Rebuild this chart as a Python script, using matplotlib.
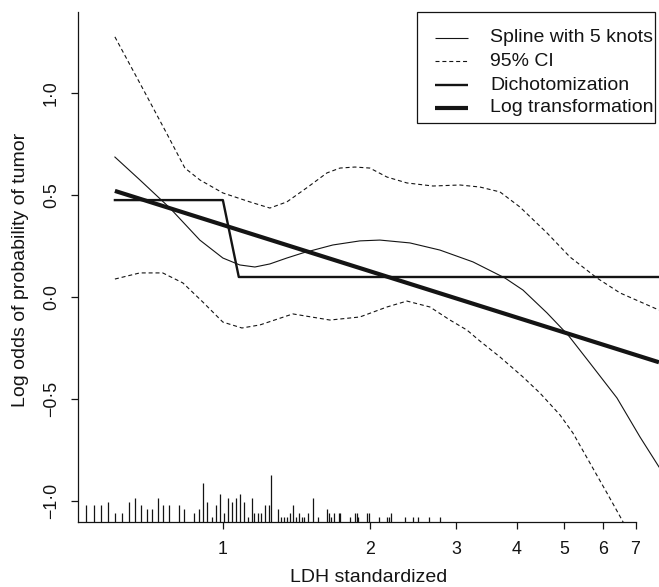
import matplotlib
matplotlib.use('Agg')
import matplotlib.pyplot as plt
from matplotlib.lines import Line2D
from matplotlib.patches import Rectangle
from matplotlib.ticker import NullLocator

plt.rcParams['font.family'] = ['Liberation Sans', 'DejaVu Sans']

# ---------------- data ----------------
spline_x = [0.601, 0.676, 0.779, 0.897, 1.0, 1.083, 1.163, 1.248, 1.352, 1.458,
            1.680, 1.908, 2.097, 2.416, 2.783, 3.252, 3.782, 4.117, 4.611, 5.091,
            5.647, 6.414, 7.149, 7.819]
spline_y = [0.686, 0.574, 0.436, 0.279, 0.191, 0.157, 0.147, 0.162, 0.191, 0.216,
            0.255, 0.275, 0.279, 0.265, 0.230, 0.172, 0.093, 0.034, -0.078, -0.186,
            -0.324, -0.495, -0.686, -0.833]

ci_up_x = [0.601, 0.686, 0.768, 0.836, 0.897, 1.0, 1.136, 1.248, 1.352, 1.493,
           1.633, 1.737, 1.864, 2.0, 2.168, 2.382, 2.693, 3.058, 3.361, 3.694,
           4.059, 4.611, 5.139, 5.837, 6.505, 7.819]
ci_up_y = [1.275, 1.02, 0.80, 0.632, 0.574, 0.510, 0.466, 0.436, 0.466, 0.539,
           0.608, 0.632, 0.637, 0.632, 0.588, 0.559, 0.544, 0.549, 0.539, 0.515,
           0.441, 0.314, 0.196, 0.093, 0.020, -0.064]

ci_lo_x = [0.601, 0.676, 0.753, 0.828, 0.910, 1.0, 1.094, 1.191, 1.391, 1.657,
           1.908, 2.168, 2.382, 2.655, 2.918, 3.161, 3.361, 3.694, 4.117, 4.461,
           4.902, 5.212, 5.647, 6.119, 6.568, 7.149]
ci_lo_y = [0.088, 0.118, 0.118, 0.069, -0.025, -0.123, -0.152, -0.137, -0.083, -0.113,
           -0.098, -0.049, -0.020, -0.049, -0.113, -0.162, -0.216, -0.294, -0.392, -0.471,
           -0.578, -0.667, -0.814, -0.961, -1.093, -1.265]

dich_x = [0.601, 1.0, 1.078, 7.819]
dich_y = [0.475, 0.475, 0.098, 0.098]

logt_x = [0.601, 7.819]
logt_y = [0.52, -0.32]

rug_x = [0.524, 0.545, 0.564, 0.581, 0.602, 0.620, 0.641, 0.660, 0.680, 0.699,
         0.716, 0.737, 0.755, 0.777, 0.813, 0.833, 0.871, 0.892, 0.909, 0.930,
         0.951, 0.967, 0.986, 1.007, 1.025, 1.043, 1.063, 1.086, 1.106, 1.125,
         1.145, 1.159, 1.178, 1.197, 1.220, 1.242, 1.255, 1.299, 1.315, 1.337,
         1.352, 1.375, 1.391, 1.411, 1.435, 1.454, 1.467, 1.493, 1.530, 1.565,
         1.631, 1.650, 1.668, 1.688, 1.728, 1.739, 1.817, 1.861, 1.878, 1.895,
         1.970, 1.988, 2.091, 2.165, 2.190, 2.214, 2.360, 2.454, 2.505, 2.646,
         2.790]
rug_n = [4, 4, 4, 5, 2, 2, 5, 6, 4, 3,
         3, 6, 4, 4, 4, 3, 2, 3, 10, 5,
         1, 4, 7, 2, 6, 5, 6, 7, 5, 1,
         6, 2, 2, 2, 4, 4, 12, 3, 1, 1,
         1, 2, 4, 1, 2, 1, 1, 2, 6, 1,
         3, 2, 1, 2, 2, 2, 1, 2, 2, 1,
         2, 2, 1, 1, 1, 2, 1, 1, 1, 1,
         1]

x_ticks = [1, 2, 3, 4, 5, 6, 7]
x_ticklabels = ['1', '2', '3', '4', '5', '6', '7']
y_ticks = [-1.0, -0.5, 0.0, 0.5, 1.0]
y_ticklabels = ['\u22121\u00b70', '\u22120\u00b75', '0\u00b70', '0\u00b75', '1\u00b70']

legend_labels = ['Spline with 5 knots', '95% CI', 'Dichotomization', 'Log transformation']

# ---------------- figure ----------------
W, H = 659, 587
fig = plt.figure(figsize=(W / 100, H / 100), dpi=100)

def fx(px):
    return px / W

def fy(py):
    return 1 - py / H

ax = fig.add_axes([fx(78), fy(522), (659 - 78) / W, (522 - 12) / H])
XMIN, XMAX = 0.505, 7.82
YMIN, YMAX = -1.103, 1.397
ax.set_xscale('log')
ax.set_xlim(XMIN, XMAX)
ax.set_ylim(YMIN, YMAX)

ink = '#141414'
dash = (0, (3.6, 2.6))

ax.plot(spline_x, spline_y, color=ink, lw=0.8, solid_joinstyle='round')
ax.plot(ci_up_x, ci_up_y, color=ink, lw=0.8, linestyle=dash)
ax.plot(ci_lo_x, ci_lo_y, color=ink, lw=0.8, linestyle=dash)
ax.plot(dich_x, dich_y, color=ink, lw=1.7)
ax.plot(logt_x, logt_y, color=ink, lw=3.0, solid_capstyle='butt')

# rug spikes (height grows with count)
RUG_BASE = 1.5 / 204
RUG_UNIT = 3.8 / 204
ax.vlines(rug_x, YMIN, [YMIN + RUG_BASE + RUG_UNIT * n for n in rug_n],
          color=ink, lw=0.9)

for s in ['top', 'right']:
    ax.spines[s].set_visible(False)
for s in ['left', 'bottom']:
    ax.spines[s].set_color(ink)
    ax.spines[s].set_linewidth(0.9)
ax.spines['bottom'].set_bounds(XMIN, 7)

ax.set_xticks(x_ticks)
ax.set_xticklabels(x_ticklabels)
ax.xaxis.set_minor_locator(NullLocator())
ax.set_yticks(y_ticks)
ax.set_yticklabels(y_ticklabels)
ax.tick_params(axis='both', direction='out', length=5, width=0.9, color=ink,
               labelcolor=ink, labelsize=12.8)
ax.tick_params(axis='x', pad=8.5)
ax.tick_params(axis='y', pad=8, labelrotation=90)
for lab in ax.get_yticklabels():
    lab.set_va('center')

fig.text(fx(369), fy(578), 'LDH standardized', ha='center', va='center',
         fontsize=14, color=ink)
fig.text(fx(21), fy(270), 'Log odds of probability of tumor', ha='center',
         va='center', rotation=90, fontsize=14, color=ink)

# legend box
box = Rectangle((fx(417), fy(123)), fx(655) - fx(417), fy(12) - fy(123),
                transform=fig.transFigure, fill=True, facecolor='white',
                edgecolor=ink, lw=0.9, zorder=5)
fig.add_artist(box)
row_y = [38, 61, 85, 108]
styles = [dict(lw=0.8), dict(lw=0.8, linestyle=dash), dict(lw=1.7), dict(lw=3.0)]
for ry, lab, st in zip(row_y, legend_labels, styles):
    fig.add_artist(Line2D([fx(435), fx(468)], [fy(ry), fy(ry)], color=ink,
                          transform=fig.transFigure, zorder=6,
                          solid_capstyle='butt', **st))
    fig.text(fx(490), fy(ry), lab, ha='left', va='center', fontsize=14,
             color=ink, zorder=6)

fig.savefig('out.png', dpi=100)
